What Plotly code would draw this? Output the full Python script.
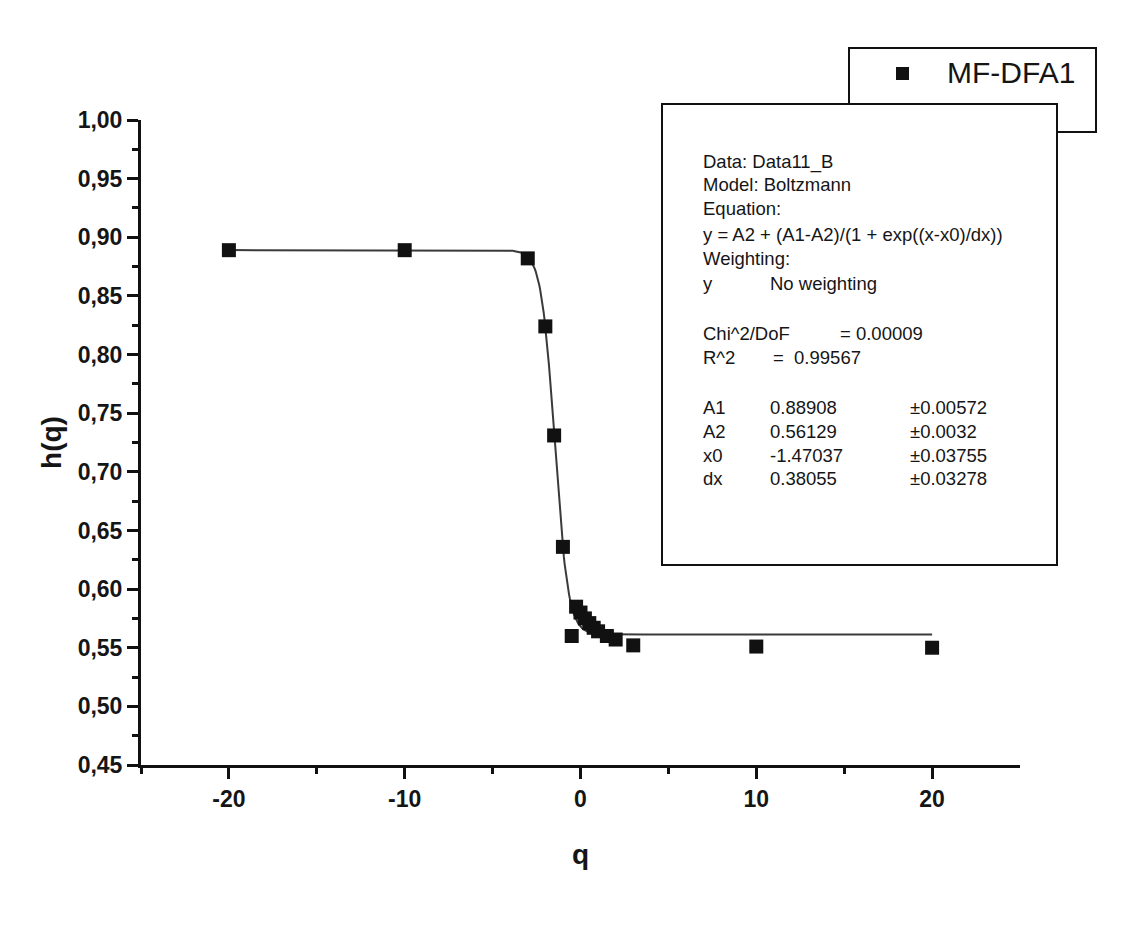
import numpy as np
import plotly.graph_objects as go

# ---- data ----
q_vals = [-20, -10, -3, -2, -1.5, -1, -0.5, -0.25, 0, 0.25, 0.5, 0.75, 1, 1.5, 2, 3, 10, 20]
h_vals = [0.889, 0.889, 0.882, 0.824, 0.731, 0.636, 0.560, 0.585, 0.580, 0.575,
          0.571, 0.567, 0.564, 0.560, 0.557, 0.552, 0.551, 0.550]
series_name = "MF-DFA1"

# Boltzmann fit parameters shown in the chart
A1, A2, x0, dx = 0.88908, 0.56129, -1.47037, 0.38055

y_ticks = [0.45, 0.50, 0.55, 0.60, 0.65, 0.70, 0.75, 0.80, 0.85, 0.90, 0.95, 1.00]
x_ticks = [-20, -10, 0, 10, 20]
x_tick_text = ["-20", "-10", "0", "10", "20"]

fit_lines = ["Data: Data11_B", "Model: Boltzmann", "Equation:",
             "y = A2 + (A1-A2)/(1 + exp((x-x0)/dx))", "Weighting:"]
param_names = ["A1", "A2", "x0", "dx"]
param_vals = ["0.88908", "0.56129", "-1.47037", "0.38055"]
param_errs = ["±0.00572", "±0.0032", "±0.03755", "±0.03278"]

# ---- figure geometry (page body has an 8px margin) ----
OFF = 8
W, H = 1123 - OFF, 937 - OFF
L = 141 - OFF
T = 120 - OFF
R = W - (1020 - OFF)
B = H - (765 - OFF)
pw, ph = W - L - R, H - T - B

def px(x):
    return (x - OFF - L) / pw

def py(y):
    return (H - B - (y - OFF)) / ph

FONT = "Liberation Sans, Arial, sans-serif"
TXT = "#151515"

qf = np.linspace(-20, 20, 801)
hf = A2 + (A1 - A2) / (1 + np.exp((qf - x0) / dx))

fig = go.Figure()
fig.add_trace(go.Scatter(x=qf, y=hf, mode="lines",
                         line=dict(color="#3a3a3a", width=2), showlegend=False,
                         hoverinfo="skip"))
fig.add_trace(go.Scatter(x=q_vals, y=h_vals, mode="markers", name=series_name,
                         marker=dict(symbol="square", size=14, color="#111111"),
                         showlegend=False))

shapes = []
# legend box (behind)
shapes.append(dict(type="rect", xref="paper", yref="paper",
                   x0=px(849), x1=px(1096), y0=py(132), y1=py(48),
                   line=dict(color="#111", width=2), fillcolor="white", layer="above"))
# legend marker
shapes.append(dict(type="rect", xref="paper", yref="paper",
                   x0=px(896), x1=px(909), y0=py(80), y1=py(67),
                   line=dict(color="#111", width=0), fillcolor="#111", layer="above"))
# fit results box
shapes.append(dict(type="rect", xref="paper", yref="paper",
                   x0=px(662), x1=px(1057), y0=py(565), y1=py(104),
                   line=dict(color="#111", width=2), fillcolor="white", layer="above"))

ann = []
ann.append(dict(x=px(945), y=py(73), xref="paper", yref="paper", text=series_name,
                showarrow=False, xanchor="left", yanchor="middle",
                font=dict(family=FONT, size=30, color=TXT)))

def txt(xp, yp, s, size=18.5):
    ann.append(dict(x=px(xp), y=py(yp), xref="paper", yref="paper", text=s,
                    showarrow=False, xanchor="left", yanchor="middle",
                    font=dict(family=FONT, size=size, color=TXT)))

ys = [162, 185, 208, 234, 258]
for s, yy in zip(fit_lines, ys):
    txt(701, yy, s)
txt(701, 283, "y")
txt(768, 283, "No weighting")
txt(701, 333, "Chi^2/DoF")
txt(838, 333, "= 0.00009")
txt(701, 357, "R^2")
txt(771, 357, "=  0.99567")
for i, (n, v, e) in enumerate(zip(param_names, param_vals, param_errs)):
    yy = 407 + i * 24
    txt(701, yy, n)
    txt(768, yy, v)
    txt(908, yy, e)

fig.update_layout(
    width=W, height=H,
    margin=dict(l=L, r=R, t=T, b=B, pad=0),
    paper_bgcolor="white", plot_bgcolor="white",
    separators=",.",
    showlegend=False,
    shapes=shapes, annotations=ann,
    font=dict(family=FONT, color=TXT),
)
fig.update_xaxes(range=[-25, 25], tickvals=x_ticks, ticktext=x_tick_text,
                 ticks="outside", ticklen=11,
                 tickwidth=3, tickcolor="#111", showline=True, linewidth=3,
                 linecolor="#111", showgrid=False, zeroline=False,
                 tickfont=dict(family=FONT, size=23, color=TXT, weight="bold"),
                 minor=dict(tickvals=[-25, -15, -5, 5, 15], ticks="outside",
                            ticklen=6, tickwidth=3, tickcolor="#111"),
                 title=dict(text="q", font=dict(family=FONT, size=28, color=TXT,
                                                weight="bold"),
                            standoff=34))
fig.update_yaxes(range=[0.45, 1.00], tickvals=y_ticks, tickformat=".2f",
                 ticks="outside", ticklen=11, tickwidth=3, tickcolor="#111",
                 showline=True, linewidth=3, linecolor="#111", showgrid=False,
                 zeroline=False,
                 tickfont=dict(family=FONT, size=23, color=TXT, weight="bold"),
                 minor=dict(dtick=0.025, tick0=0.45, ticks="outside", ticklen=6,
                            tickwidth=3, tickcolor="#111"),
                 title=dict(text="h(q)", font=dict(family=FONT, size=28, color=TXT,
                                                   weight="bold"),
                            standoff=8))

fig.write_html("out.html")
